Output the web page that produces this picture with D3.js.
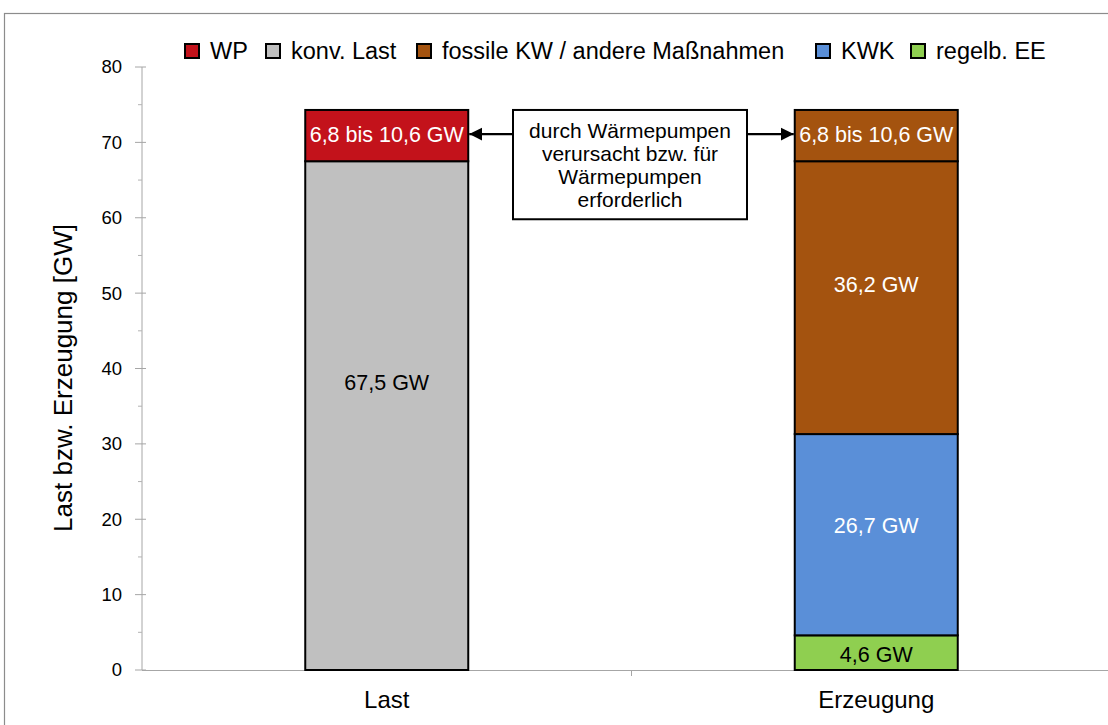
<!DOCTYPE html>
<html>
<head>
<meta charset="utf-8">
<script src="https://cdn.jsdelivr.net/npm/d3@7"></script>
<style>
  html, body { margin: 0; padding: 0; background: #fff; }
  svg { display: block; font-family: "Liberation Sans", Arial, sans-serif; }
</style>
</head>
<body>
<svg id="chart" width="1108" height="725"></svg>
<script>
// categories and stacked segments (bottom to top)
const categories = ["Last", "Erzeugung"];
const seriesNames = ["WP", "konv. Last", "fossile KW / andere Maßnahmen", "KWK", "regelb. EE"];
const seriesColors = ["#C3121B", "#C0C0C0", "#A4530F", "#5A8FD8", "#8FCF50"];

const lastKeys   = ["konv. Last", "WP"];
const lastValues = [67.5, 6.8];
const lastLabels = ["67,5 GW", "6,8 bis 10,6 GW"];
const lastLabelAt = [38.1, 71.0];

const erzKeys   = ["regelb. EE", "KWK", "fossile KW / andere Maßnahmen", "fossile KW / andere Maßnahmen"];
const erzValues = [4.6, 26.7, 36.2, 6.8];
const erzLabels = ["4,6 GW", "26,7 GW", "36,2 GW", "6,8 bis 10,6 GW"];
const erzLabelAt = [2.1, 19.2, 51.2, 71.0];

const yTicks = [0, 10, 20, 30, 40, 50, 60, 70, 80];
const annotationLines = ["durch Wärmepumpen", "verursacht bzw. für", "Wärmepumpen", "erforderlich"];

const color = d3.scaleOrdinal().domain(seriesNames).range(seriesColors);
const darkText = ["konv. Last", "regelb. EE"];

const svg = d3.select("#chart");

// outer frame
svg.append("rect")
  .attr("x", 4.5).attr("y", 13.5).attr("width", 1120).attr("height", 730)
  .attr("fill", "none").attr("stroke", "#8c8c8c").attr("stroke-width", 1.2);

const y = d3.scaleLinear().domain([0, 80]).range([670, 67]);
const x = d3.scaleBand().domain(categories).range([142, 1121]).padding(0);
const barW = 163;

// y axis
const yAxis = svg.append("g").attr("transform", "translate(142,0)");
yAxis.append("line").attr("y1", y(0)).attr("y2", y(80)).attr("stroke", "#a6a6a6");
yAxis.selectAll("line.minor").data(d3.range(5, 80, 10)).join("line")
  .attr("class", "minor")
  .attr("x1", -4).attr("x2", 0).attr("y1", d => y(d)).attr("y2", d => y(d))
  .attr("stroke", "#b3b3b3");
yAxis.selectAll("line.major").data(yTicks).join("line")
  .attr("class", "major")
  .attr("x1", -7).attr("x2", 4).attr("y1", d => y(d)).attr("y2", d => y(d))
  .attr("stroke", "#a6a6a6");
yAxis.selectAll("text").data(yTicks).join("text")
  .attr("x", -20).attr("y", d => y(d)).attr("dy", "0.35em")
  .attr("text-anchor", "end").attr("font-size", 18.5).attr("fill", "#000")
  .text(d => d);

svg.append("text")
  .attr("transform", "translate(72,378) rotate(-90)")
  .attr("text-anchor", "middle").attr("font-size", 26)
  .text("Last bzw. Erzeugung [GW]");

// x axis
svg.append("line").attr("x1", 142).attr("x2", 1121).attr("y1", y(0) + 0.5).attr("y2", y(0) + 0.5)
  .attr("stroke", "#a6a6a6");
svg.selectAll("line.xtick").data([x("Erzeugung")]).join("line")
  .attr("class", "xtick")
  .attr("x1", d => d).attr("x2", d => d).attr("y1", y(0)).attr("y2", y(0) + 6)
  .attr("stroke", "#a6a6a6");
svg.selectAll("text.xlab").data(categories).join("text")
  .attr("class", "xlab")
  .attr("x", d => x(d) + x.bandwidth() / 2).attr("y", 708)
  .attr("text-anchor", "middle").attr("font-size", 24)
  .text(d => d);

// bars
function stackOf(keys, values, labels, labelAt) {
  let acc = 0;
  return values.map((v, i) => {
    const s = { key: keys[i], y0: acc, y1: acc + v, label: labels[i], at: labelAt[i] };
    acc += v;
    return s;
  });
}
const stacks = [
  { cat: "Last", segs: stackOf(lastKeys, lastValues, lastLabels, lastLabelAt) },
  { cat: "Erzeugung", segs: stackOf(erzKeys, erzValues, erzLabels, erzLabelAt) }
];

stacks.forEach(st => {
  const cx = x(st.cat) + x.bandwidth() / 2;
  const g = svg.append("g");
  g.selectAll("rect").data(st.segs).join("rect")
    .attr("x", cx - barW / 2).attr("width", barW)
    .attr("y", d => y(d.y1)).attr("height", d => y(d.y0) - y(d.y1))
    .attr("fill", d => color(d.key))
    .attr("stroke", "#000").attr("stroke-width", 2);
  g.selectAll("text").data(st.segs).join("text")
    .attr("x", cx).attr("y", d => y(d.at)).attr("dy", "0.35em")
    .attr("text-anchor", "middle").attr("font-size", 21.5)
    .attr("fill", d => darkText.includes(d.key) ? "#000" : "#fff")
    .text(d => d.label);
});

// annotation box with arrows
const defs = svg.append("defs");
defs.append("marker")
  .attr("id", "arr").attr("viewBox", "0 0 10 10").attr("refX", 10).attr("refY", 5)
  .attr("markerWidth", 6).attr("markerHeight", 6).attr("orient", "auto")
  .append("path").attr("d", "M0,0 L10,5 L0,10 Z").attr("fill", "#000");

const lastRight = x("Last") + x.bandwidth() / 2 + barW / 2;
const erzLeft = x("Erzeugung") + x.bandwidth() / 2 - barW / 2;
const boxL = 513, boxR = 747, boxT = y(74.3), boxB = y(59.8);
const arrowY = y(71.1);

svg.append("line").attr("x1", boxL).attr("x2", lastRight + 1).attr("y1", arrowY).attr("y2", arrowY)
  .attr("stroke", "#000").attr("stroke-width", 2.2).attr("marker-end", "url(#arr)");
svg.append("line").attr("x1", boxR).attr("x2", erzLeft - 1).attr("y1", arrowY).attr("y2", arrowY)
  .attr("stroke", "#000").attr("stroke-width", 2.2).attr("marker-end", "url(#arr)");

svg.append("rect")
  .attr("x", boxL).attr("y", boxT).attr("width", boxR - boxL).attr("height", boxB - boxT)
  .attr("fill", "#fff").attr("stroke", "#000").attr("stroke-width", 2);
svg.selectAll("text.ann").data(annotationLines).join("text")
  .attr("class", "ann")
  .attr("x", (boxL + boxR) / 2).attr("y", (d, i) => boxT + 21 + i * 22.8).attr("dy", "0.35em")
  .attr("text-anchor", "middle").attr("font-size", 21)
  .text(d => d);

// legend
const legendX = [185, 266, 417, 816, 911];
const lg = svg.append("g");
seriesNames.forEach((name, i) => {
  const item = lg.append("g").attr("transform", `translate(${legendX[i]},51)`);
  item.append("rect").attr("x", 0).attr("y", -7).attr("width", 14).attr("height", 14)
    .attr("fill", color(name)).attr("stroke", "#000").attr("stroke-width", 2);
  item.append("text").attr("x", 25).attr("y", 0).attr("dy", "0.35em")
    .attr("font-size", 23.5).text(name);
});
</script>
</body>
</html>
